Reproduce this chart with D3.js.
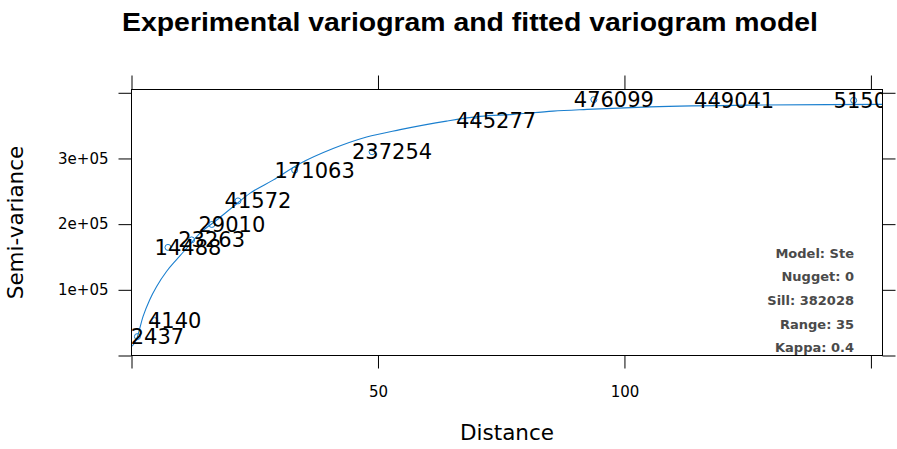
<!DOCTYPE html>
<html>
<head>
<meta charset="utf-8">
<script src="https://cdn.jsdelivr.net/npm/d3@7"></script>
<style>
body { margin: 0; background: #fff; }
svg { display: block; }
.axis text { font-family: "DejaVu Sans"; font-size: 15px; fill: #000; }
.axis line { stroke: #000; }
.axis path { display: none; }
.frame { fill: none; stroke: #000; stroke-width: 1; }
.model { fill: none; stroke: #1a7fcf; stroke-width: 1.1; }
.pt { fill: none; stroke: #1a7fcf; stroke-width: 1; }
.np { font-family: "DejaVu Sans"; font-size: 21px; fill: #000; }
.info { font-family: "DejaVu Sans"; font-weight: bold; font-size: 13px; fill: #4a4a4a; }
</style>
</head>
<body>
<svg width="897" height="449"></svg>
<script>
// experimental variogram: distance, semivariance, number of pairs
const expDist = [1.2, 4.7, 7.4, 12.2, 16.3, 21.6, 33.1, 48.8, 69.9, 93.8, 118.2, 146.5]
const expGamma = [28800, 53100, 164600, 176000, 199500, 235400, 282200, 310200, 357200, 389600, 387600, 388400]
const pairLabels = ["2437", "4140", "14488", "23263", "29010", "41572", "171063", "237254", "445277", "476099", "449041", "515043"]

// fitted model line
const modelDist = [0.12, 1.0, 2.35, 3.7, 5.1, 7.1, 9.1, 11.2, 13.9, 17.3, 20.6, 24.0, 28.7, 34.2, 40.9, 47.7, 54.5, 63.9, 70.7, 77.4, 85.5, 92.4, 105.2, 125.5, 152.3]
const modelGamma = [14100, 24300, 59600, 85000, 105100, 127900, 145600, 163400, 186200, 206300, 226500, 246800, 267000, 292300, 315100, 332700, 343900, 356900, 364100, 367100, 372100, 374700, 378500, 381200, 382300]

const xTicks = [0, 50, 100, 150]
const xTickLabels = ["", "50", "100", ""]
const yTicks = [0, 100000, 200000, 300000, 400000]
const yTickLabels = ["", "1e+05", "2e+05", "3e+05", ""]
const modelInfo = ["Model: Ste", "Nugget: 0", "Sill: 382028", "Range: 35", "Kappa: 0.4"]

const svg = d3.select("svg")

const pLeft = 131.5, pRight = 882.5, pTop = 89.5, pBottom = 355.5

const x = d3.scaleLinear()
    .domain([0, 152.35])
    .range([pLeft, pRight])

const y = d3.scaleLinear()
    .domain([0, 405000])
    .range([pBottom, pTop])

// title
svg.append("text")
    .attr("x", 470)
    .attr("y", 31)
    .attr("text-anchor", "middle")
    .attr("textLength", 696)
    .attr("lengthAdjust", "spacingAndGlyphs")
    .style("font-family", "Liberation Sans")
    .style("font-weight", "bold")
    .style("font-size", "25px")
    .text("Experimental variogram and fitted variogram model")

// axes on all four sides
svg.append("g")
    .attr("class", "axis")
    .attr("transform", `translate(0, ${pBottom})`)
    .call(d3.axisBottom(x).tickValues(xTicks).tickSize(13).tickPadding(18)
        .tickFormat((d, i) => xTickLabels[i]))

svg.append("g")
    .attr("class", "axis")
    .attr("transform", `translate(0, ${pTop})`)
    .call(d3.axisTop(x).tickValues(xTicks).tickSize(14).tickFormat(""))

svg.append("g")
    .attr("class", "axis")
    .attr("transform", `translate(${pLeft}, 0)`)
    .call(d3.axisLeft(y).tickValues(yTicks).tickSize(13).tickPadding(10)
        .tickFormat((d, i) => yTickLabels[i]))

svg.append("g")
    .attr("class", "axis")
    .attr("transform", `translate(${pRight}, 0)`)
    .call(d3.axisRight(y).tickValues(yTicks).tickSize(13).tickFormat(""))

svg.append("rect")
    .attr("class", "frame")
    .attr("x", pLeft)
    .attr("y", pTop)
    .attr("width", pRight - pLeft)
    .attr("height", pBottom - pTop)

// axis titles
svg.append("text")
    .attr("x", (pLeft + pRight) / 2)
    .attr("y", 440)
    .attr("text-anchor", "middle")
    .style("font-family", "DejaVu Sans")
    .style("font-size", "21.5px")
    .text("Distance")

svg.append("text")
    .attr("transform", `translate(23, ${(pTop + pBottom) / 2}) rotate(-90)`)
    .attr("text-anchor", "middle")
    .style("font-family", "DejaVu Sans")
    .style("font-size", "21.5px")
    .text("Semi-variance")

// panel contents, clipped to the frame
svg.append("clipPath")
    .attr("id", "panel")
    .append("rect")
    .attr("x", pLeft)
    .attr("y", pTop)
    .attr("width", pRight - pLeft)
    .attr("height", pBottom - pTop)

const panel = svg.append("g").attr("clip-path", "url(#panel)")

const line = d3.line()
    .x((d, i) => x(modelDist[i]))
    .y((d, i) => y(modelGamma[i]))
    .curve(d3.curveMonotoneX)

panel.append("path")
    .datum(modelDist)
    .attr("class", "model")
    .attr("d", line)

panel.selectAll("circle.pt")
    .data(expDist)
    .enter()
    .append("circle")
    .attr("class", "pt")
    .attr("cx", (d, i) => x(d))
    .attr("cy", (d, i) => y(expGamma[i]))
    .attr("r", 3)

panel.selectAll("text.np")
    .data(pairLabels)
    .enter()
    .append("text")
    .attr("class", "np")
    .attr("x", (d, i) => x(expDist[i]) + 20)
    .attr("y", (d, i) => y(expGamma[i]))
    .attr("dy", "0.36em")
    .attr("text-anchor", "middle")
    .text(d => d)

// model parameters
panel.selectAll("text.info")
    .data(modelInfo)
    .enter()
    .append("text")
    .attr("class", "info")
    .attr("x", 854)
    .attr("y", (d, i) => 257.5 + i * 23.7)
    .attr("text-anchor", "end")
    .text(d => d)
</script>
</body>
</html>
